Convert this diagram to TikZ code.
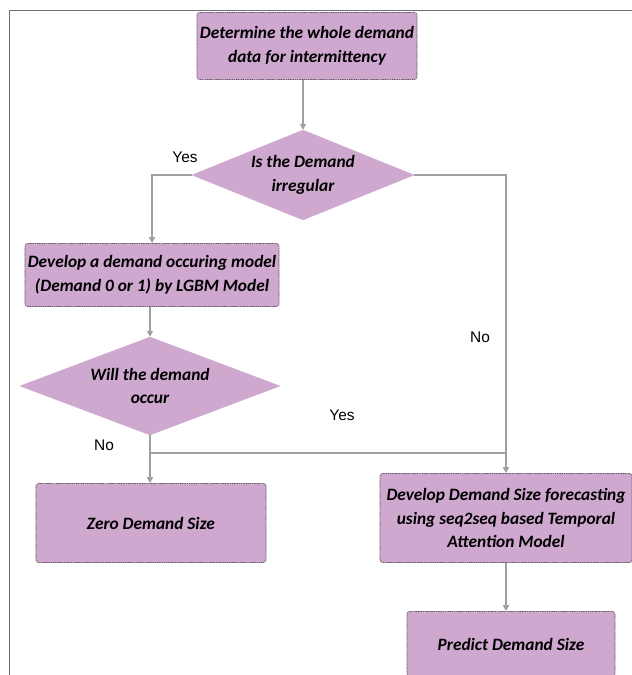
\documentclass[tikz,border=0pt]{standalone}
\usepackage{fontspec}
\setmainfont{Carlito}
\newfontfamily\lblfont{Liberation Sans}
\usetikzlibrary{shapes.geometric,arrows.meta}
\definecolor{boxfill}{RGB}{206,168,206}
\definecolor{boxedge}{RGB}{105,85,105}
\definecolor{linegray}{RGB}{160,160,160}
\definecolor{framegray}{RGB}{110,110,110}
\begin{document}
\begin{tikzpicture}[x=1bp,y=-1bp,
  box/.style={rectangle,draw=boxedge,fill=boxfill,line width=0.6pt,
    dash pattern=on 1.2pt off 0.6pt,rounded corners=2.5pt,inner sep=0pt,
    align=center,font=\fontsize{17.4}{24}\selectfont\bfseries\itshape},
  dia/.style={diamond,draw=boxfill,fill=boxfill,inner sep=0pt,
    align=center,font=\fontsize{17.4}{24}\selectfont\bfseries\itshape},
  conn/.style={draw=linegray,line width=1.3pt,-{Triangle[length=6pt,width=6pt]}},
  plain/.style={draw=linegray,line width=1.3pt},
  lbl/.style={font=\lblfont\fontsize{15.5}{18}\selectfont,text=black,inner sep=0pt}]
\useasboundingbox (0,0) rectangle (632,675);
\draw[framegray,line width=0.8pt] (9,676) -- (9,10) -- (633,10);

\node[box,minimum width=220bp,minimum height=67bp] (b1) at (307,46)
  {Determine the whole demand\\data for intermittency};
\node[dia,aspect=2.47,minimum width=222bp,minimum height=90bp] (d1) at (303,175)
  {Is the Demand\\irregular};
\node[box,minimum width=254bp,minimum height=63bp] (b2) at (152,275)
  {Develop a demand occuring model\\(Demand 0 or 1) by LGBM Model};
\node[dia,aspect=2.65,minimum width=260bp,minimum height=98bp] (d2) at (150,386)
  {Will the demand\\occur};
\node[box,minimum width=230bp,minimum height=79bp] (b3) at (151,523)
  {Zero Demand Size};
\node[box,minimum width=252bp,minimum height=89bp] (b4) at (506,518)
  {Develop Demand Size forecasting\\using seq2seq based Temporal\\Attention Model};
\node[box,minimum width=208bp,minimum height=65bp] (b5) at (511,644)
  {Predict Demand Size};

\node[lbl] (yes1) at (185,157) {Yes};
\node[lbl] (no1) at (480,337) {No};
\node[lbl] (yes2) at (342,415) {Yes};
\node[lbl] (no2) at (104,445) {No};

\coordinate (j) at (150,453);

\draw[conn] (b1.south -| d1.north) -- (d1.north);
\draw[conn] (d1.west) -| (b2.north);
\draw[conn] (d1.east) -| (b4.north);
\draw[conn] (b2.south -| d2.north) -- (d2.north);
\draw[conn] (d2.south) -- (d2.south |- b3.north);
\draw[plain] (j) -- (j -| b4.north);
\draw[conn] (b4.south) -- (b4.south |- b5.north);
\end{tikzpicture}
\end{document}
